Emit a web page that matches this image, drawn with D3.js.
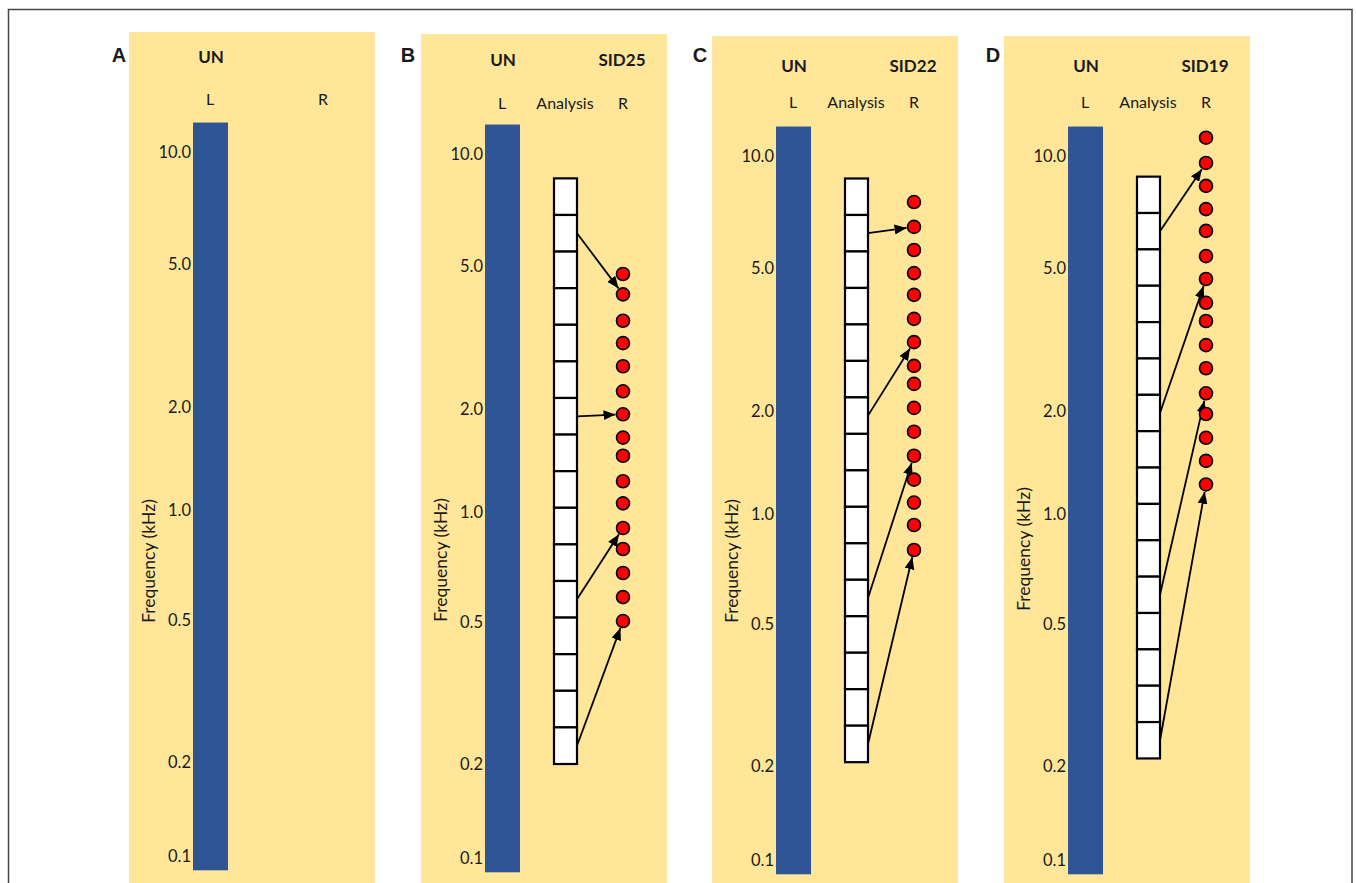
<!DOCTYPE html>
<html>
<head>
<meta charset="utf-8">
<script src="https://cdn.jsdelivr.net/npm/d3@7"></script>
<style>
  html, body { margin: 0; padding: 0; background: #fff; }
  svg { display: block; }
  text { font-family: Lato, "Open Sans", sans-serif; fill: #1a1a1a; }
</style>
</head>
<body>
<div id="chart"></div>
<script>
// frequency axis ticks (kHz); the drawn axis is only roughly logarithmic,
// so each tick has its own offset from the panel top
const tickValues = [10, 5, 2, 1, 0.5, 0.2, 0.1];
const tickOffsets = [120, 232, 375, 478, 588, 730, 824];

const panelIds = ["A", "B", "C", "D"];
const subjectIds = [null, "SID25", "SID22", "SID19"];

// normal-hearing ear spans the full range (kHz)
const normalEarRange = [0.09, 12];

// analysis filter bank edges (kHz) and channel numbers, top = highest
const analysisRanges = [null, [0.2, 8.6], [0.205, 8.7], [0.21, 8.8]];
const analysisChannels = [1, 2, 3, 4, 5, 6, 7, 8, 9, 10, 11, 12, 13, 14, 15, 16];

// place frequency of each electrode on the implanted ear (kHz), electrode 1 at top
const electrodesB = [4.75, 4.17, 3.52, 3.05, 2.63, 2.24, 1.93, 1.65, 1.46, 1.23, 1.06, 0.904, 0.792, 0.681, 0.585, 0.503];
const electrodesC = [7.52, 6.45, 5.59, 4.84, 4.21, 3.61, 3.11, 2.67, 2.38, 2.04, 1.74, 1.48, 1.26, 1.08, 0.933, 0.797];
const electrodesD = [11.2, 9.58, 8.31, 7.20, 6.29, 5.38, 4.66, 4.00, 3.56, 3.05, 2.63, 2.24, 1.96, 1.67, 1.43, 1.22];
const electrodeSets = [null, electrodesB, electrodesC, electrodesD];

// channels whose mapping is drawn as an arrow (channel n -> electrode n)
const arrowChannels = [2, 7, 12, 16];

// layout
const width = 1356;
const height = 883;
const panelLeft = [129, 421, 712, 1004];
const panelTop = [32, 34, 36, 36];
const panelWidth = 246;
const panelHeight = 870;
const letterX = [119, 408, 700, 993];
const headerY = [25, 26, 30, 30];
const columnY = [67, 69, 66, 66];
const axisLabelY = [529, 526, 525, 513];
const rColumnX = [194, 202, 202, 202];

const col = { axisLabel: 20, bar: 64, barWidth: 35, box: 133, boxWidth: 23, dot: 202, un: 82, sid: 201, left: 81, analysis: 144 };
const dotRadius = 6.5;

const colors = {
  panel: "#FFE699",
  bar: "#2F5597",
  dot: "#FF0000",
  ink: "#000"
};

const y = d3.scaleLog().domain(tickValues).range(tickOffsets);

const svg = d3.select("#chart")
  .append("svg")
  .attr("width", width)
  .attr("height", height);

svg.append("defs")
  .append("marker")
  .attr("id", "arrowhead")
  .attr("viewBox", "0 0 12 10")
  .attr("refX", 12)
  .attr("refY", 5)
  .attr("markerWidth", 12)
  .attr("markerHeight", 10)
  .attr("markerUnits", "userSpaceOnUse")
  .attr("orient", "auto")
  .append("path")
  .attr("d", "M0,0L12,5L0,10Z")
  .attr("fill", colors.ink);

// outer frame
svg.append("rect")
  .attr("x", 8.5)
  .attr("y", 9.5)
  .attr("width", 1343.5)
  .attr("height", 900)
  .attr("fill", "none")
  .attr("stroke", "#444")
  .attr("stroke-width", 1.5);

panelIds.forEach((id, i) => {
  svg.append("text")
    .attr("x", letterX[i])
    .attr("y", 54.5)
    .attr("dy", "0.35em")
    .attr("text-anchor", "middle")
    .style("font-family", "'Liberation Sans', Arial, sans-serif")
    .style("font-weight", "bold")
    .style("font-size", "20px")
    .text(id);

  const g = svg.append("g")
    .attr("transform", `translate(${panelLeft[i]},${panelTop[i]})`);

  g.append("rect")
    .attr("width", panelWidth)
    .attr("height", panelHeight)
    .attr("fill", colors.panel);

  // headers
  g.append("text")
    .attr("x", col.un)
    .attr("y", headerY[i])
    .attr("dy", "0.35em")
    .attr("text-anchor", "middle")
    .style("font-weight", "bold")
    .style("font-size", "17px")
    .text("UN");

  if (subjectIds[i]) {
    g.append("text")
      .attr("x", col.sid)
      .attr("y", headerY[i])
      .attr("dy", "0.35em")
      .attr("text-anchor", "middle")
      .style("font-weight", "bold")
      .style("font-size", "17px")
      .text(subjectIds[i]);
  }

  const columnLabels = [["L", col.left], ["R", rColumnX[i]]];
  if (analysisRanges[i]) columnLabels.push(["Analysis", col.analysis]);
  columnLabels.forEach(([label, x]) => {
    g.append("text")
      .attr("x", x)
      .attr("y", columnY[i])
      .attr("dy", "0.35em")
      .attr("text-anchor", "middle")
      .style("font-size", "16px")
      .text(label);
  });

  // normal ear bar
  g.append("rect")
    .attr("x", col.bar)
    .attr("y", y(normalEarRange[1]))
    .attr("width", col.barWidth)
    .attr("height", y(normalEarRange[0]) - y(normalEarRange[1]))
    .attr("fill", colors.bar);

  // frequency axis
  const axis = g.append("g")
    .attr("transform", `translate(${col.bar},0)`)
    .call(d3.axisLeft(y).tickValues(tickValues).tickFormat(d3.format(".1f")).tickSize(0).tickPadding(2));
  axis.select(".domain").remove();
  axis.selectAll("text")
    .style("font-family", "Lato, 'Open Sans', sans-serif")
    .style("font-size", "16.5px")
    .attr("fill", "#1a1a1a");

  g.append("text")
    .attr("transform", `translate(${col.axisLabel},${axisLabelY[i]}) rotate(-90)`)
    .attr("dy", "0.35em")
    .attr("text-anchor", "middle")
    .style("font-size", "17.5px")
    .text("Frequency (kHz)");

  if (!analysisRanges[i]) return;

  const band = d3.scaleBand()
    .domain(analysisChannels)
    .range([y(analysisRanges[i][1]), y(analysisRanges[i][0])])
    .paddingInner(0);

  g.append("g")
    .selectAll("rect")
    .data(analysisChannels)
    .join("rect")
    .attr("x", col.box)
    .attr("y", (d) => band(d))
    .attr("width", col.boxWidth)
    .attr("height", band.bandwidth())
    .attr("fill", "#fff")
    .attr("stroke", colors.ink)
    .attr("stroke-width", 2.2);

  const electrodes = electrodeSets[i];

  // arrows from channel centre to the matching electrode edge
  g.append("g")
    .selectAll("line")
    .data(arrowChannels)
    .join("line")
    .each(function (ch) {
      const x0 = col.box + col.boxWidth;
      const y0 = band(ch) + band.bandwidth() / 2;
      const x1 = col.dot;
      const y1 = y(electrodes[ch - 1]);
      const len = Math.hypot(x1 - x0, y1 - y0);
      const cut = dotRadius + 1;
      d3.select(this)
        .attr("x1", x0)
        .attr("y1", y0)
        .attr("x2", x1 - (x1 - x0) * cut / len)
        .attr("y2", y1 - (y1 - y0) * cut / len);
    })
    .attr("stroke", colors.ink)
    .attr("stroke-width", 1.8)
    .attr("marker-end", "url(#arrowhead)");

  g.append("g")
    .selectAll("circle")
    .data(electrodes)
    .join("circle")
    .attr("cx", col.dot)
    .attr("cy", (d) => y(d))
    .attr("r", dotRadius)
    .attr("fill", colors.dot)
    .attr("stroke", colors.ink)
    .attr("stroke-width", 1.6);
});
</script>
</body>
</html>
